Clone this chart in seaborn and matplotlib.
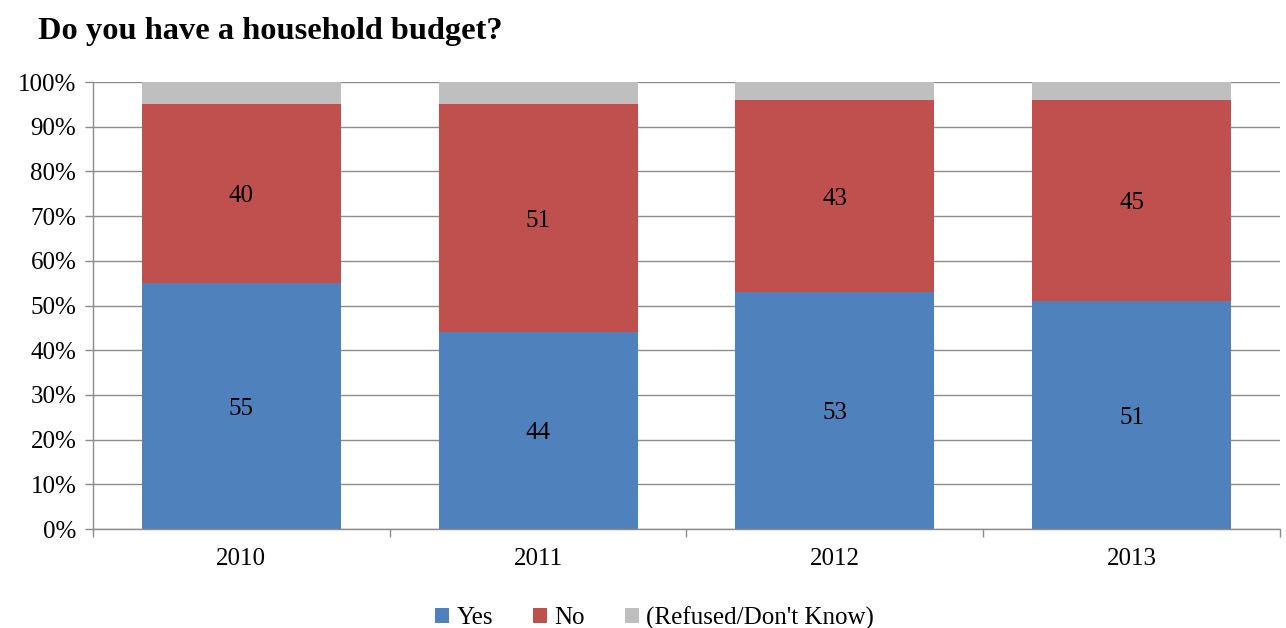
import matplotlib
matplotlib.use("Agg")
import matplotlib.pyplot as plt
import seaborn as sns
import numpy as np
import pandas as pd
from matplotlib.patches import Patch
from matplotlib.ticker import FuncFormatter, FixedLocator

years = ["2010", "2011", "2012", "2013"]
yes = [55, 44, 53, 51]
no = [40, 51, 43, 45]
refused = [5, 5, 4, 4]
series_names = ["Yes", "No", "(Refused/Don't Know)"]
colors = ["#4F81BD", "#C0504D", "#BFBFBF"]
title = "Do you have a household budget?"

sns.set_theme(style="white")
plt.rcParams["font.family"] = ["Liberation Serif", "DejaVu Serif"]
plt.rcParams["text.color"] = "black"
plt.rcParams["xtick.color"] = "black"
plt.rcParams["ytick.color"] = "black"

fig = plt.figure(figsize=(12.86, 6.28), dpi=100)
ax = fig.add_axes([0.0723, 0.1576, 0.9230, 0.7118])

df = pd.DataFrame({"year": years, "yes": yes, "no": no, "refused": refused})
bottom_no = np.array(yes)
bottom_ref = np.array(yes) + np.array(no)

sns.barplot(data=df, x="year", y="yes", color=colors[0], width=0.67, ax=ax,
            saturation=1, linewidth=0)
sns.barplot(data=df, x="year", y="no", color=colors[1], width=0.67, ax=ax,
            saturation=1, linewidth=0, bottom=bottom_no)
sns.barplot(data=df, x="year", y="refused", color=colors[2], width=0.67, ax=ax,
            saturation=1, linewidth=0, bottom=bottom_ref)

for cont, vals in zip(ax.containers[:2], [yes, no]):
    texts = ax.bar_label(cont, labels=[str(v) for v in vals], label_type="center",
                         fontsize=18, color="black")
    for t in texts:
        t.set_va("center_baseline")

ax.set_xlim(-0.5, 3.5)
ax.set_ylim(0, 100)
ax.set_yticks(np.arange(0, 101, 10))
ax.yaxis.set_major_formatter(FuncFormatter(lambda v, p: f"{int(v)}%"))
ax.set_xlabel("")
ax.set_ylabel("")
ax.grid(axis="y", color="#8C8C8C", linewidth=1.0)
ax.set_axisbelow(True)
for s in ["top", "right"]:
    ax.spines[s].set_visible(False)
for s in ["left", "bottom"]:
    ax.spines[s].set_color("#8C8C8C")
    ax.spines[s].set_linewidth(1.0)

ax.tick_params(axis="y", which="major", left=True, length=6, width=1,
               color="#8C8C8C", labelcolor="black", labelsize=18, pad=6)
ax.tick_params(axis="x", which="major", bottom=False, length=0, labelsize=18,
               labelcolor="black", pad=14)
ax.xaxis.set_minor_locator(FixedLocator([-0.5, 0.5, 1.5, 2.5, 3.5]))
ax.tick_params(axis="x", which="minor", bottom=True, length=6, width=1,
               color="#8C8C8C")

fig.text(0.0295, 0.950, title, fontsize=23.3, fontweight="bold", ha="left",
         va="center", color="black")

handles = [Patch(facecolor=c, edgecolor="none") for c in colors]
fig.legend(handles, series_names, loc="center", bbox_to_anchor=(0.509, 0.016),
           ncol=3, frameon=False, fontsize=18, handlelength=0.55, handleheight=0.55,
           handletextpad=0.3, columnspacing=1.6, labelcolor="black")

fig.savefig("out.png", dpi=100)
